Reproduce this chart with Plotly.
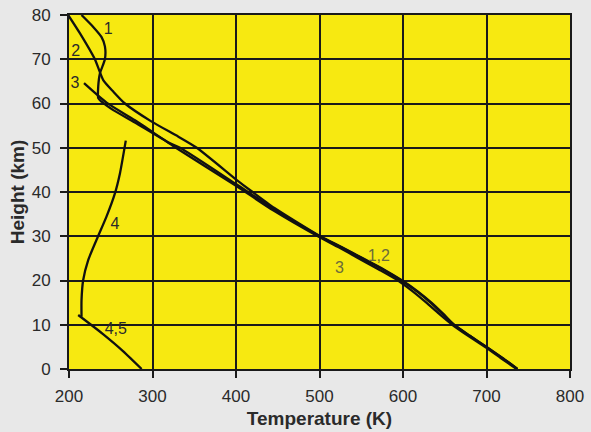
import plotly.graph_objects as go

# Curve data (Temperature K, Height km)
c1_T = [215, 229, 239, 243, 243, 237, 235, 235, 239, 253, 281, 321, 333, 400, 445, 500, 526, 551, 576, 598, 617, 633, 647, 661, 680, 700, 719, 737]
c1_h = [80, 77.3, 75, 72.9, 70, 66.8, 63.8, 61.2, 60.4, 58.5, 55.5, 51, 50, 41.8, 36.2, 30, 27.5, 25, 22.5, 20, 17.5, 15, 12.5, 10, 7.5, 5, 2.5, 0]

c2_T = [199, 213, 231, 241, 253, 267, 299, 331, 353, 401, 417, 446, 501, 527, 552, 577, 599, 618, 634, 648, 661, 680, 700, 719, 737]
c2_h = [80, 75.9, 70, 65.3, 62.7, 60, 55.9, 52.5, 50, 42.7, 40.4, 36.4, 30, 27.5, 25, 22.5, 20, 17.5, 15, 12.5, 10, 7.5, 5, 2.5, 0]

c3_T = [218, 245, 279, 328, 400, 445, 498, 523, 547, 571, 594, 612, 628, 643, 659, 678, 698, 717, 736]
c3_h = [64.6, 60.2, 56.2, 50, 41.4, 35.8, 30, 27.5, 25, 22.5, 20, 17.5, 15, 12.5, 10, 7.5, 5, 2.5, 0]

c4_T = [268, 261, 255, 245, 233, 223, 217, 215, 215]
c4_h = [51.6, 44.2, 39.7, 34.5, 29.2, 24.6, 20.1, 15.6, 11.8]

c45_T = [211, 240, 265, 287]
c45_h = [12.2, 8.0, 4.0, 0]

label_text = ["1", "2", "3", "4", "4,5", "1,2", "3"]
label_T = [247, 208, 207, 255, 256, 571, 524]
label_h = [76.5, 71.7, 64.4, 32.5, 8.8, 25.2, 22.6]
label_col = ["#2a2a2a", "#2a2a2a", "#2a2a2a", "#2a2a2a", "#2a2a2a", "#6b6b3a", "#6b6b3a"]

x_ticks = [200, 300, 400, 500, 600, 700, 800]
y_ticks = [0, 10, 20, 30, 40, 50, 60, 70, 80]

FONT = "Liberation Sans, Arial, sans-serif"

fig = go.Figure()
for T, h in [(c1_T, c1_h), (c2_T, c2_h), (c3_T, c3_h), (c4_T, c4_h), (c45_T, c45_h)]:
    fig.add_trace(go.Scatter(x=T, y=h, mode="lines",
                             line=dict(color="#111111", width=2.3, shape="spline", smoothing=0.6),
                             showlegend=False, hoverinfo="skip"))

fig.add_trace(go.Scatter(x=label_T, y=label_h, mode="text", text=label_text,
                         textfont=dict(family=FONT, size=16, color=label_col),
                         showlegend=False, hoverinfo="skip"))

fig.update_layout(
    width=591, height=432,
    margin=dict(l=69, r=21, t=15, b=63),
    paper_bgcolor="#e8e8e8",
    plot_bgcolor="#f7e911",
    font=dict(family=FONT, color="#2a2a2a", size=17),
)
fig.update_xaxes(range=[200, 800], tickvals=x_ticks, showgrid=True, gridcolor="#1a1a1a", gridwidth=2,
                 showline=True, linecolor="#1a1a1a", linewidth=2, mirror=True, automargin=False,
                 ticks="outside", ticklen=7, tickcolor="#1a1a1a", tickwidth=2, zeroline=False,
                 ticklabelstandoff=4,
                 title=dict(text="<b>Temperature (K)</b>", font=dict(size=19), standoff=6))
fig.update_yaxes(range=[0, 80], tickvals=y_ticks, showgrid=True, gridcolor="#1a1a1a", gridwidth=2,
                 showline=True, linecolor="#1a1a1a", linewidth=2, mirror=True, automargin=False,
                 ticks="outside", ticklen=7, tickcolor="#1a1a1a", tickwidth=2, zeroline=False,
                 ticklabelstandoff=6,
                 title=dict(text="<b>Height (km)</b>", font=dict(size=19), standoff=2))

fig.write_html("out.html", config={"displayModeBar": False},
               post_script="document.body.style.margin='0';document.body.style.padding='0';")
